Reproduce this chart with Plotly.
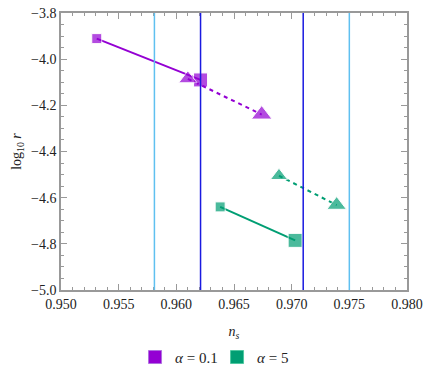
import plotly.graph_objects as go

# alpha = 0.1 (purple)
sq_a01_x = [0.9531, 0.9621]
sq_a01_y = [-3.911, -4.090]
tri_a01_x = [0.9610, 0.9674]
tri_a01_y = [-4.085, -4.240]

# alpha = 5 (green)
sq_a5_x = [0.9638, 0.9703]
sq_a5_y = [-4.640, -4.785]
tri_a5_x = [0.9689, 0.9739]
tri_a5_y = [-4.505, -4.632]

# observational bounds on n_s
light_bounds = [0.9581, 0.9750]
dark_bounds = [0.9621, 0.9710]

x_range = [0.950, 0.980]
y_range = [-5.0, -3.8]

purple = "#9400D3"
green = "#009E73"
light_blue = "#5FC0F0"
dark_blue = "#1A1AE0"
frame = "#999999"
serif = "Liberation Serif"

fig = go.Figure()

fig.add_trace(go.Scatter(x=sq_a01_x, y=sq_a01_y, mode="lines+markers",
                         line=dict(color=purple, width=2),
                         marker=dict(symbol="square", size=[10, 14], color=purple),
                         showlegend=False))
fig.add_trace(go.Scatter(x=tri_a01_x, y=tri_a01_y, mode="lines+markers",
                         line=dict(color=purple, width=2, dash="4px,4px"),
                         marker=dict(symbol="triangle-up", size=[16, 18], color=purple),
                         showlegend=False))
fig.add_trace(go.Scatter(x=sq_a5_x, y=sq_a5_y, mode="lines+markers",
                         line=dict(color=green, width=2),
                         marker=dict(symbol="square", size=[10, 14], color=green),
                         showlegend=False))
fig.add_trace(go.Scatter(x=tri_a5_x, y=tri_a5_y, mode="lines+markers",
                         line=dict(color=green, width=2, dash="4px,4px"),
                         marker=dict(symbol="triangle-up", size=[15, 17], color=green),
                         showlegend=False))

# legend-only entries (squares without lines)
fig.add_trace(go.Scatter(x=[None], y=[None], mode="markers", name="<i>α</i> = 0.1",
                         marker=dict(symbol="square", size=13, color=purple,
                                     line=dict(color="#B070E0", width=1))))
fig.add_trace(go.Scatter(x=[None], y=[None], mode="markers", name="<i>α</i> = 5",
                         marker=dict(symbol="square", size=13, color=green,
                                     line=dict(color="#50C8A0", width=1))))

for xv in light_bounds:
    fig.add_shape(type="line", x0=xv, x1=xv, y0=y_range[0], y1=y_range[1], layer="above",
                  line=dict(color=light_blue, width=1.5))
for xv in dark_bounds:
    fig.add_shape(type="line", x0=xv, x1=xv, y0=y_range[0], y1=y_range[1], layer="above",
                  line=dict(color=dark_blue, width=1.5))

axis_common = dict(showgrid=False, zeroline=False, showline=True, linecolor=frame,
                   linewidth=1.5, ticks="inside", ticklen=6, tickcolor=frame,
                   automargin=False, tickfont=dict(size=14, color="#222222", family=serif))

fig.update_layout(
    xaxis=dict(range=x_range, dtick=0.005, tickformat=".3f", ticklabeloverflow="allow",
               minor=dict(dtick=0.001, ticks="inside", ticklen=3, tickcolor=frame),
               title=dict(text="<i>n<sub>s</sub></i>", font=dict(size=14, family=serif),
                          standoff=22),
               **axis_common),
    yaxis=dict(range=y_range, dtick=0.2, tickformat=".1f", ticklabeloverflow="allow",
               minor=dict(dtick=0.05, ticks="inside", ticklen=3, tickcolor=frame),
               title=dict(text="log<sub>10</sub> <i>r</i>", font=dict(size=14, family=serif),
                          standoff=6),
               **axis_common),
    # mirrored frame on top / right with the same ticks, no labels
    xaxis2=dict(range=x_range, dtick=0.005, overlaying="x", side="top", showticklabels=False,
                minor=dict(dtick=0.001, ticks="inside", ticklen=3, tickcolor=frame),
                **axis_common),
    yaxis2=dict(range=y_range, dtick=0.2, overlaying="y", side="right", showticklabels=False,
                minor=dict(dtick=0.05, ticks="inside", ticklen=3, tickcolor=frame),
                **axis_common),
)

# invisible trace to activate the mirrored axes
fig.add_trace(go.Scatter(x=[None], y=[None], xaxis="x2", yaxis="y2", showlegend=False,
                         hoverinfo="skip"))

fig.update_layout(width=424, height=385, plot_bgcolor="white", paper_bgcolor="white",
                  font=dict(family=serif, color="#222222"),
                  margin=dict(l=61, r=17, t=13, b=95),
                  legend=dict(orientation="h", x=0.214, xanchor="left",
                              yref="container", y=0.072, yanchor="middle",
                              font=dict(size=15, family=serif), itemwidth=30,
                              entrywidth=37, entrywidthmode="pixels"),
                  separators=".\u2212")

# drop the default body margin so the 424x385 figure fills the window exactly
fig.write_html("out.html", config={"displayModeBar": False},
               post_script="document.body.style.margin = '0px';")
